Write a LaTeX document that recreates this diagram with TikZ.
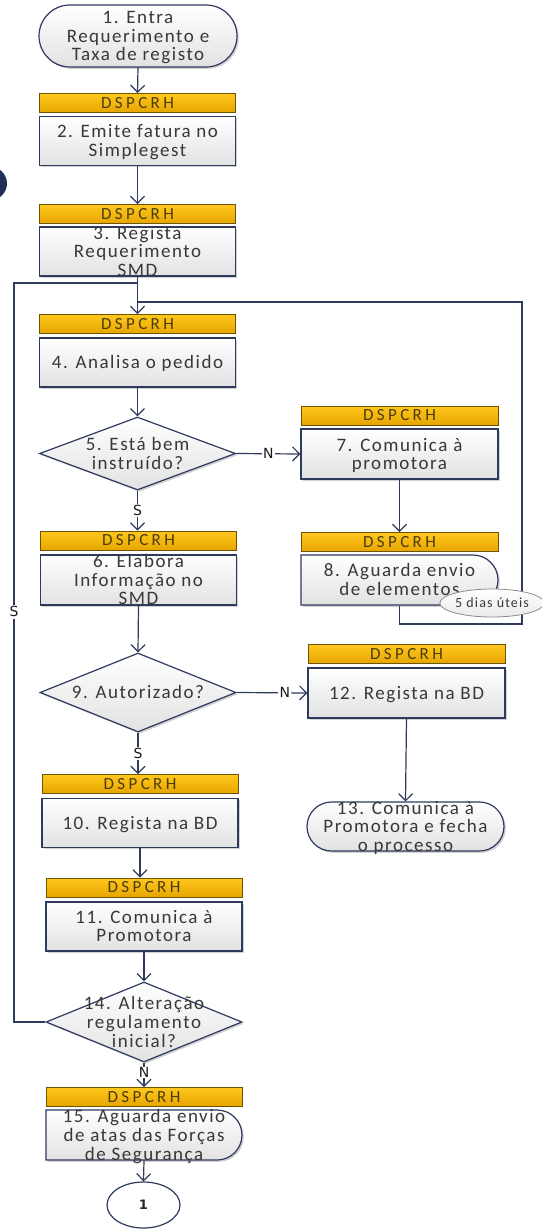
\documentclass[tikz,border=0pt]{standalone}
\usepackage{fontspec}
\setmainfont{Carlito}[LetterSpace=8]
\newfontfamily\hdrfont{Carlito}[LetterSpace=20]
\newfontfamily\lblfont{DejaVu Sans}
\usetikzlibrary{shapes.geometric,shapes.misc,arrows.meta,shadows}
\definecolor{navy}{HTML}{2E3B5E}
\definecolor{txtg}{HTML}{383838}
\definecolor{goldT}{HTML}{FFC81E}
\definecolor{goldB}{HTML}{E6A500}
\definecolor{goldD}{HTML}{6E5400}
\definecolor{hdrtxt}{HTML}{4A3C0C}
\definecolor{boxB}{HTML}{E2E2E2}
\definecolor{blob}{HTML}{1F2F5A}
\newcommand{\tx}[1]{\raisebox{-6.8pt}[0pt][0pt]{\begin{tabular}{@{}c@{}}#1\end{tabular}}}
\begin{document}
\begin{tikzpicture}[x=1pt,y=-1pt,
  every node/.style={font=\fontsize{19}{18.3}\selectfont, text=txtg},
  shd/.style={drop shadow={shadow xshift=1.8pt,shadow yshift=-1.8pt,fill=black!40,opacity=0.45}},
  hdr/.style={rectangle, draw=goldD, line width=0.9pt, top color=goldT, bottom color=goldB,
    minimum width=196pt, minimum height=19pt, inner sep=0pt, text height=10.7pt, text depth=0pt,
    font=\hdrfont\fontsize{17}{18}\selectfont, text=hdrtxt},
  box/.style={rectangle, draw=navy, line width=1.2pt, top color=white, bottom color=boxB,
    minimum width=196pt, minimum height=49pt, inner sep=0pt, shd},
  term/.style={box, rounded rectangle},
  dly/.style={box, rounded rectangle, rounded rectangle west arc=none},
  dec/.style={diamond, aspect=3, draw=navy, line width=1.2pt, top color=white, bottom color=boxB,
    minimum width=196pt, inner sep=0pt, shd},
  circ/.style={ellipse, draw=navy, line width=1.2pt, fill=white, minimum width=73pt, minimum height=46pt, inner sep=0pt,
    font=\lblfont\fontsize{13}{14}\selectfont\bfseries, text=black!85},
  dias/.style={ellipse, draw=black!45, line width=0.8pt, top color=white, bottom color=black!8,
    minimum width=98pt, minimum height=28pt, inner sep=0pt, font=\fontsize{14}{14}\selectfont},
  ln/.style={draw=navy, line width=1.2pt},
  arr/.style={ln, -{Straight Barb[length=7pt,width=14pt]}},
  lbl/.style={fill=white, inner sep=1.5pt, font=\lblfont\fontsize{14}{15}\selectfont, text=black!90}
]
\useasboundingbox (0,0) rectangle (541,1231);
\fill[blob] (-12,183.5) ellipse [x radius=19pt, y radius=17.5pt];

% left column
\node[term, minimum width=198pt, minimum height=62pt] (t1) at (138,36) {\tx{1. Entra\\Requerimento e\\Taxa de registo}};
\node[hdr] (h2) at (137.5,103) {DSPCRH};
\node[box] (b2) at (137.5,141) {\tx{2. Emite fatura no\\Simplegest}};
\node[hdr] (h3) at (137.5,214) {DSPCRH};
\node[box] (b3) at (137.5,251.5) {\tx{3. Regista\\Requerimento\\SMD}};
\node[hdr] (h4) at (137.5,324) {DSPCRH};
\node[box] (b4) at (137.5,362.5) {\tx{4. Analisa o pedido}};
\node[dec, minimum height=73pt] (d5) at (137.5,453.5) {\tx{5. Está bem\\instruído?}};
\node[hdr] (h6) at (138.5,540.5) {DSPCRH};
\node[box, minimum height=50pt] (b6) at (138.5,580) {\tx{6. Elabora\\Informação no\\SMD}};
\node[dec, minimum height=79pt] (d9) at (138,692.5) {\tx{9. Autorizado?}};
\node[hdr] (h10) at (140,784) {DSPCRH};
\node[box] (b10) at (140,823) {\tx{10. Regista na BD}};
\node[hdr] (h11) at (144,887.5) {DSPCRH};
\node[box] (b11) at (144,926.5) {\tx{11. Comunica à\\Promotora}};
\node[dec, minimum height=80pt] (d14) at (144,1022) {\tx{14. Alteração\\regulamento\\inicial?}};
\node[hdr] (h15) at (144,1097) {DSPCRH};
\node[dly, minimum height=50pt] (b15) at (144,1135) {\tx{15. Aguarda envio\\de atas das Forças\\de Segurança}};
\node[circ] (c1) at (143.5,1205) {1};

% right column
\node[hdr, minimum width=197pt] (h7) at (399.5,415.5) {DSPCRH};
\node[box, minimum width=197pt, minimum height=50pt] (b7) at (399.5,454) {\tx{7. Comunica à\\promotora}};
\node[hdr, minimum width=197pt] (h8) at (399.5,542) {DSPCRH};
\node[dly, minimum width=197pt, minimum height=50pt] (b8) at (399.5,580) {\tx{8. Aguarda envio\\de elementos}};
\node[hdr, minimum width=197pt] (h12) at (406.5,654) {DSPCRH};
\node[box, minimum width=197pt, minimum height=50pt] (b12) at (406.5,693) {\tx{12. Regista na BD}};
\node[term, minimum width=197pt, minimum height=49pt] (t13) at (405.5,826.5) {\tx{13. Comunica à\\Promotora e fecha\\o processo}};

% helper coordinates
\coordinate (rb) at (522,624);
\coordinate (jr) at (137.5,302);
\coordinate (ll) at (14,1022);
\coordinate (tl) at (14,283);
\coordinate (jl) at (137.5,283);

% connectors
\draw[arr] (t1.south) -- (h2.north);
\draw[arr] (b2.south) -- (h3.north);
\draw[arr] (b3.south) -- (h4.north);
\draw[arr] (b4.south) -- (d5.north);
\draw[arr] (d5.east) -- node[lbl] (n5) {N} (b7.west);
\draw[arr] (d5.south) -- node[lbl] (s5) {S} (d5.south |- h6.north);
\draw[arr] (b7.south) -- (h8.north);
\draw[ln] (b8.south) |- (rb) |- (jr);
\draw[arr] (b6.south) -- (d9.north);
\draw[arr] (d9.east) -- node[lbl, pos=0.68] (n9) {N} (b12.west);
\draw[arr] (d9.south) -- node[lbl] (s9) {S} (d9.south |- h10.north);
\draw[arr] (b12.south) -- (t13.north);
\draw[arr] (b10.south) -- (b10.south |- h11.north);
\draw[arr] (b11.south) -- (d14.north);
\draw[ln] (d14.west) -- (ll) -- node[lbl, pos=0.555] (s14) {S} (tl) -- (jl);
\draw[arr] (d14.south) -- node[lbl, pos=0.4, inner sep=0.5pt] (n14) {N} (h15.north);
\draw[arr] (b15.south) -- (c1.north);

\node[dias] (d8) at (492,603) {5 dias úteis};
\end{tikzpicture}
\end{document}
